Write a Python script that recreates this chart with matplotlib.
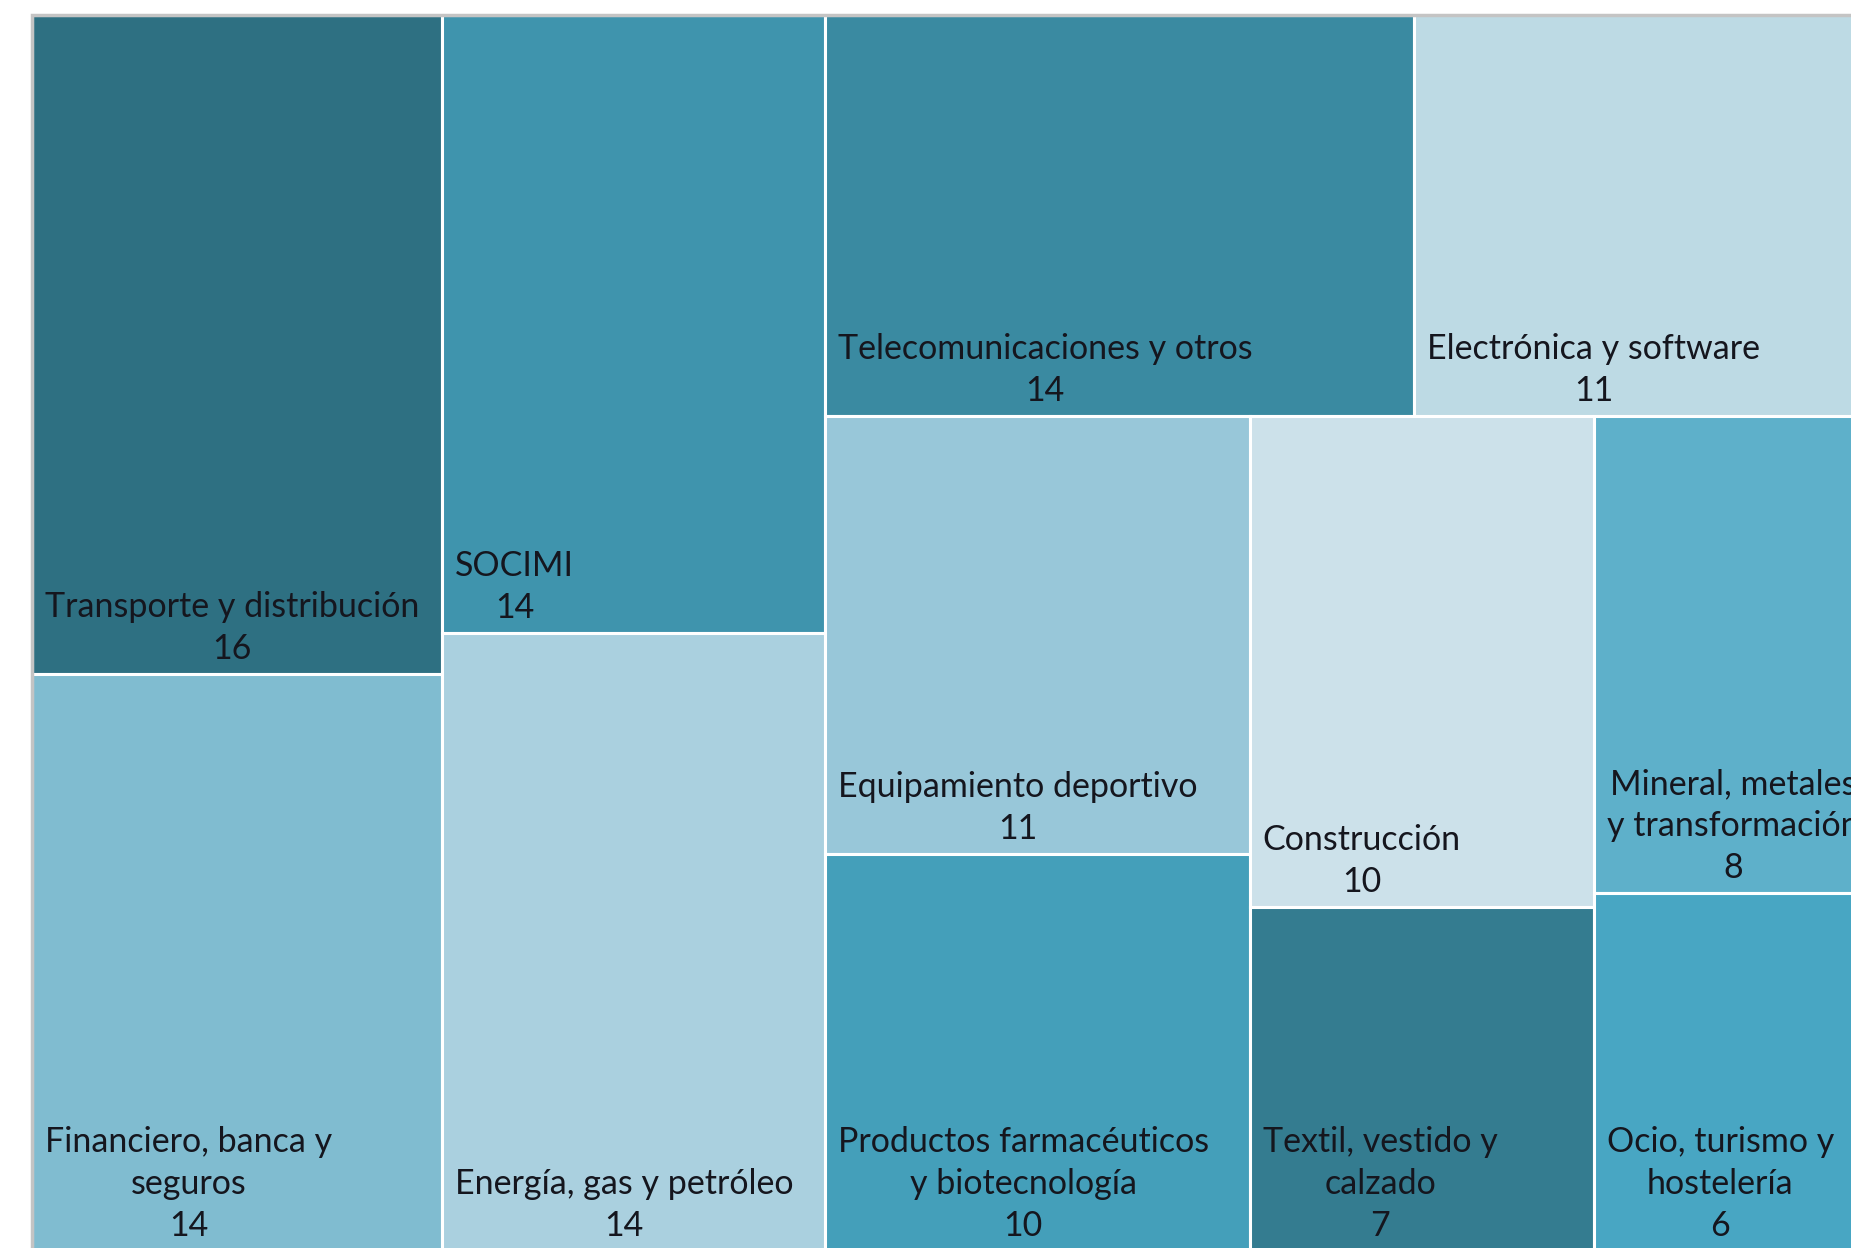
import matplotlib
matplotlib.use('Agg')
import matplotlib.pyplot as plt
from matplotlib.patches import Rectangle

# Sectores y número de empresas
sectores = [
    'Transporte y distribución',
    'Financiero, banca y\nseguros',
    'SOCIMI',
    'Energía, gas y petróleo',
    'Telecomunicaciones y otros',
    'Electrónica y software',
    'Equipamiento deportivo',
    'Productos farmacéuticos\ny biotecnología',
    'Construcción',
    'Textil, vestido y\ncalzado',
    'Mineral, metales\ny transformación',
    'Ocio, turismo y\nhostelería',
]
empresas = [16, 14, 14, 14, 14, 11, 11, 10, 10, 7, 8, 6]
colores = [
    '#2E7082', '#80BCD0', '#3F94AD', '#AAD0DF',
    '#3A8AA1', '#BDDAE4', '#98C7D9', '#449FBA',
    '#CCE1EA', '#347C90', '#5EB0CA', '#48A6C3',
]

# Agrupación del mosaico (las listas alternan dirección: columnas / filas)
grupos = [[0, 1], [2, 3], [[4, 5], [[6, 7], [8, 9], [10, 11]]]]


def total(nodo):
    if isinstance(nodo, int):
        return empresas[nodo]
    return sum(total(n) for n in nodo)


def repartir(nodo, x, y, w, h, horizontal, salida):
    # reparte el rectángulo entre los hijos proporcionalmente a su suma
    if isinstance(nodo, int):
        salida[nodo] = (x, y, w, h)
        return
    suma = total(nodo)
    pos = 0.0
    for hijo in nodo:
        f = total(hijo) / suma
        if horizontal:
            repartir(hijo, x + pos * w, y, w * f, h, not horizontal, salida)
        else:
            # de arriba hacia abajo
            repartir(hijo, x, y + h - (pos + f) * h, w, h * f, not horizontal, salida)
        pos += f


W, H = 1845.0, 1236.0
rects = {}
repartir(grupos, 0, 0, W, H, True, rects)

fig = plt.figure(figsize=(18.51, 12.48), dpi=100)
# el mosaico sobresale por la derecha y por abajo
ax = fig.add_axes([32 / 1851, 1 - (15 + H) / 1248, W / 1851, H / 1248])
ax.set_xlim(0, W)
ax.set_ylim(0, H)
ax.axis('off')

ax.add_patch(Rectangle((0, 0), W, H, facecolor='none', edgecolor='#C4C4C4',
                       linewidth=2.5, zorder=5, clip_on=False))

for i, (x, y, w, h) in rects.items():
    ax.add_patch(Rectangle((x, y), w, h, facecolor=colores[i],
                           edgecolor='white', linewidth=2.2, zorder=2))
    ax.text(x + 13, y + 9, f'{sectores[i]}\n{empresas[i]}',
            ha='left', va='bottom', multialignment='center',
            fontsize=24.5, family='Lato', color='#15161E',
            linespacing=1.38, zorder=3)

fig.savefig('out.png', dpi=100)
plt.close(fig)
